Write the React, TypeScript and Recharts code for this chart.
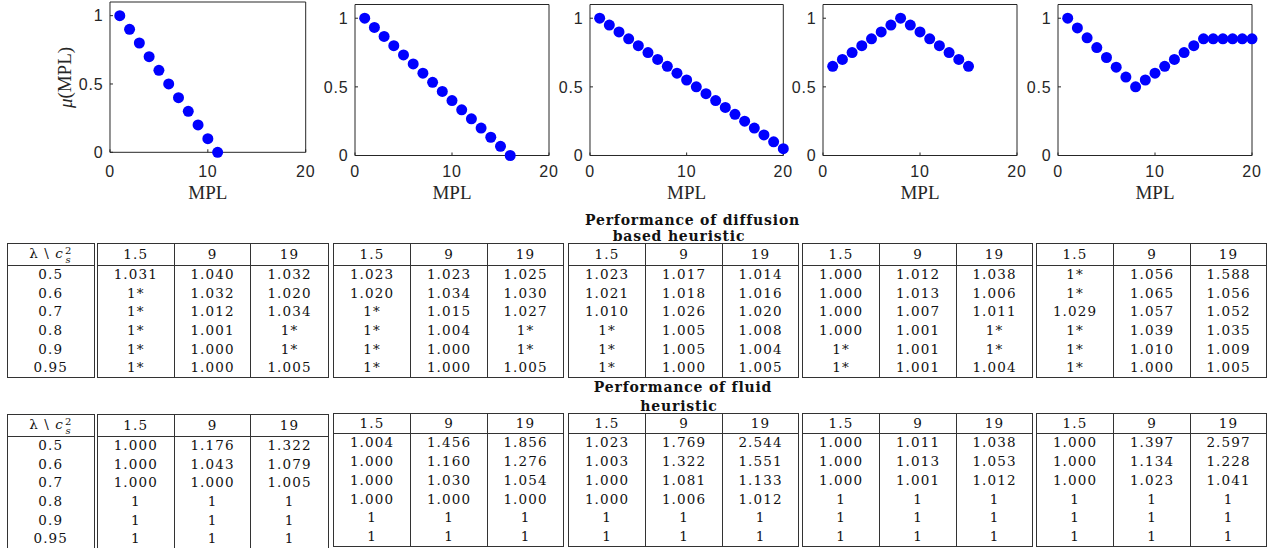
import React from 'react';
import { ScatterChart, Scatter, XAxis, YAxis } from 'recharts';

// membership functions mu(MPL), one per panel
const mplA = [1, 2, 3, 4, 5, 6, 7, 8, 9, 10, 11];
const muA = [1, 0.9, 0.8, 0.7, 0.6, 0.5, 0.4, 0.3, 0.2, 0.1, 0];
const mplB = [1, 2, 3, 4, 5, 6, 7, 8, 9, 10, 11, 12, 13, 14, 15, 16];
const muB = [1, 0.933, 0.867, 0.8, 0.733, 0.667, 0.6, 0.533, 0.467, 0.4, 0.333, 0.267, 0.2, 0.133, 0.067, 0];
const mplC = [1, 2, 3, 4, 5, 6, 7, 8, 9, 10, 11, 12, 13, 14, 15, 16, 17, 18, 19, 20];
const muC = [1, 0.95, 0.9, 0.85, 0.8, 0.75, 0.7, 0.65, 0.6, 0.55, 0.5, 0.45, 0.4, 0.35, 0.3, 0.25, 0.2, 0.15, 0.1, 0.05];
const mplD = [1, 2, 3, 4, 5, 6, 7, 8, 9, 10, 11, 12, 13, 14, 15];
const muD = [0.65, 0.7, 0.75, 0.8, 0.85, 0.9, 0.95, 1, 0.95, 0.9, 0.85, 0.8, 0.75, 0.7, 0.65];
const mplE = [1, 2, 3, 4, 5, 6, 7, 8, 9, 10, 11, 12, 13, 14, 15, 16, 17, 18, 19, 20];
const muE = [1, 0.929, 0.857, 0.786, 0.714, 0.643, 0.571, 0.5, 0.55, 0.6, 0.65, 0.7, 0.75, 0.8, 0.85, 0.85, 0.85, 0.85, 0.85, 0.85];

const xTicks = [0, 10, 20];
const yTicks = [0, 0.5, 1];

// table data
const lambdas = ['0.5', '0.6', '0.7', '0.8', '0.9', '0.95'];
const cs2 = ['1.5', '9', '19'];

const diffusion1 = [
  ['1.031', '1.040', '1.032'], ['1*', '1.032', '1.020'], ['1*', '1.012', '1.034'],
  ['1*', '1.001', '1*'], ['1*', '1.000', '1*'], ['1*', '1.000', '1.005'],
];
const diffusion2 = [
  ['1.023', '1.023', '1.025'], ['1.020', '1.034', '1.030'], ['1*', '1.015', '1.027'],
  ['1*', '1.004', '1*'], ['1*', '1.000', '1*'], ['1*', '1.000', '1.005'],
];
const diffusion3 = [
  ['1.023', '1.017', '1.014'], ['1.021', '1.018', '1.016'], ['1.010', '1.026', '1.020'],
  ['1*', '1.005', '1.008'], ['1*', '1.005', '1.004'], ['1*', '1.000', '1.005'],
];
const diffusion4 = [
  ['1.000', '1.012', '1.038'], ['1.000', '1.013', '1.006'], ['1.000', '1.007', '1.011'],
  ['1.000', '1.001', '1*'], ['1*', '1.001', '1*'], ['1*', '1.001', '1.004'],
];
const diffusion5 = [
  ['1*', '1.056', '1.588'], ['1*', '1.065', '1.056'], ['1.029', '1.057', '1.052'],
  ['1*', '1.039', '1.035'], ['1*', '1.010', '1.009'], ['1*', '1.000', '1.005'],
];

const fluid1 = [
  ['1.000', '1.176', '1.322'], ['1.000', '1.043', '1.079'], ['1.000', '1.000', '1.005'],
  ['1', '1', '1'], ['1', '1', '1'], ['1', '1', '1'],
];
const fluid2 = [
  ['1.004', '1.456', '1.856'], ['1.000', '1.160', '1.276'], ['1.000', '1.030', '1.054'],
  ['1.000', '1.000', '1.000'], ['1', '1', '1'], ['1', '1', '1'],
];
const fluid3 = [
  ['1.023', '1.769', '2.544'], ['1.003', '1.322', '1.551'], ['1.000', '1.081', '1.133'],
  ['1.000', '1.006', '1.012'], ['1', '1', '1'], ['1', '1', '1'],
];
const fluid4 = [
  ['1.000', '1.011', '1.038'], ['1.000', '1.013', '1.053'], ['1.000', '1.001', '1.012'],
  ['1', '1', '1'], ['1', '1', '1'], ['1', '1', '1'],
];
const fluid5 = [
  ['1.000', '1.397', '2.597'], ['1.000', '1.134', '1.228'], ['1.000', '1.023', '1.041'],
  ['1', '1', '1'], ['1', '1', '1'], ['1', '1', '1'],
];

const AXIS = '#262626';
const SANS = "'Liberation Sans', Arial, sans-serif";
const SERIF = "'Liberation Serif', 'Times New Roman', serif";
const TSERIF = "'DejaVu Serif', serif";
const LINE = '#333';

const dot = (p: any) => <circle cx={p.cx} cy={p.cy} r={5.5} fill="#0000ff" />;

type PlotProps = {
  xs: number[];
  ys: number[];
  left: number;
  top: number;
  plotW: number;
  plotH: number;
  yLabel?: boolean;
};

const MuPlot = ({ xs, ys, left, top, plotW, plotH, yLabel }: PlotProps) => {
  const data = xs.map((x, i) => ({ mpl: x, mu: ys[i] }));
  const axisW = 60;
  const w = axisW + plotW + 14;
  const h = 210;
  const bottom = top + plotH;
  const xMargin = 177.2 - 11.4 - (bottom - 3);
  const tickStyle = { fill: AXIS, fontSize: 16, fontFamily: SANS, letterSpacing: 0.8 };
  const originX = left - axisW;
  return (
    <div style={{ position: 'absolute', left: originX, top: 0 }}>
      <ScatterChart width={w} height={h} margin={{ top: top - 1, right: 13, bottom: h - bottom - 50, left: 0 }}>
        <XAxis
          xAxisId="b"
          type="number"
          dataKey="mpl"
          domain={[0, 20]}
          ticks={xTicks}
          height={50}
          tickSize={-3}
          tickMargin={xMargin}
          axisLine={{ stroke: AXIS }}
          tickLine={{ stroke: AXIS }}
          tick={tickStyle}
          label={{
            content: (lp: any) => (
              <text
                x={lp.viewBox.x + lp.viewBox.width / 2}
                y={199}
                textAnchor="middle"
                fill={AXIS}
                fontSize={19}
                fontFamily={SERIF}
              >
                MPL
              </text>
            ),
          }}
        />
        <XAxis
          xAxisId="t"
          orientation="top"
          type="number"
          domain={[0, 20]}
          ticks={xTicks}
          height={1}
          tick={false}
          tickSize={-3}
          axisLine={{ stroke: AXIS }}
          tickLine={{ stroke: AXIS }}
        />
        <YAxis
          yAxisId="l"
          type="number"
          dataKey="mu"
          domain={[0, 1.1]}
          ticks={yTicks}
          width={axisW}
          tickSize={-3}
          tickMargin={9.5}
          axisLine={{ stroke: AXIS }}
          tickLine={{ stroke: AXIS }}
          tick={tickStyle}
          label={
            yLabel
              ? {
                  content: () => (
                    <text
                      x={65 - originX}
                      y={77.5}
                      transform={`rotate(-90, ${65 - originX}, 77.5)`}
                      textAnchor="middle"
                      dominantBaseline="central"
                      fill={AXIS}
                      fontSize={19}
                      fontFamily={SERIF}
                    >
                      <tspan fontStyle="italic">μ</tspan>(MPL)
                    </text>
                  ),
                }
              : undefined
          }
        />
        <YAxis
          yAxisId="r"
          orientation="right"
          type="number"
          domain={[0, 1.1]}
          ticks={yTicks}
          width={1}
          tick={false}
          tickSize={-3}
          axisLine={{ stroke: AXIS }}
          tickLine={{ stroke: AXIS }}
        />
        <Scatter xAxisId="b" yAxisId="l" data={data} shape={dot} isAnimationActive={false} />
      </ScatterChart>
    </div>
  );
};

type BlockProps = {
  left: number;
  top: number;
  width: number;
  headH: number;
  rowH: number;
  rows: string[][];
  withLabel?: boolean;
};

const cellText: React.CSSProperties = {
  fontFamily: TSERIF,
  fontSize: 13.5,
  letterSpacing: 1.1,
  color: '#111',
  textAlign: 'center',
  verticalAlign: 'middle',
  padding: 0,
  lineHeight: 1,
};

const HeaderLabel = () => (
  <span>
    λ \ <i>c</i>
    <span style={{ display: 'inline-flex', flexDirection: 'column', verticalAlign: 'middle', fontSize: 10, lineHeight: '9px', marginLeft: 1 }}>
      <span>2</span>
      <i>s</i>
    </span>
  </span>
);

const TableBlock = ({ left, top, width, headH, rowH, rows, withLabel }: BlockProps) => {
  const cols = withLabel ? [88, 79, 76, 78] : [77, 77, 76];
  const vline = `1px solid ${LINE}`;
  return (
    <table
      style={{
        position: 'absolute',
        left,
        top,
        width,
        borderCollapse: 'collapse',
        tableLayout: 'fixed',
        border: vline,
      }}
    >
      <colgroup>
        {cols.map((c, i) => (
          <col key={i} style={{ width: c }} />
        ))}
      </colgroup>
      <thead>
        <tr style={{ height: headH }}>
          {withLabel && (
            <th style={{ ...cellText, fontWeight: 'normal', borderRight: `4px double ${LINE}`, borderBottom: `1.5px solid ${LINE}` }}>
              <HeaderLabel />
            </th>
          )}
          {cs2.map((c, i) => (
            <th key={c} style={{ ...cellText, fontWeight: 'normal', borderRight: i < 2 ? vline : undefined, borderBottom: `1.5px solid ${LINE}` }}>
              {c}
            </th>
          ))}
        </tr>
      </thead>
      <tbody>
        {rows.map((r, ri) => (
          <tr key={ri} style={{ height: rowH }}>
            {withLabel && <td style={{ ...cellText, borderRight: `4px double ${LINE}` }}>{lambdas[ri]}</td>}
            {r.map((v, ci) => (
              <td key={ci} style={{ ...cellText, borderRight: ci < 2 ? vline : undefined }}>
                {v}
              </td>
            ))}
          </tr>
        ))}
      </tbody>
    </table>
  );
};

const blockLefts = [333, 568, 802, 1036];
const diffusionBlocks = [diffusion2, diffusion3, diffusion4, diffusion5];
const fluidBlocks = [fluid2, fluid3, fluid4, fluid5];

const App = () => {
  return (
    <div style={{ position: 'absolute', left: 0, top: 0, width: 1271, height: 548, overflow: 'hidden', background: '#fff' }}>
      <MuPlot xs={mplA} ys={muA} left={110} top={2} plotW={195.7} plotH={150.3} yLabel />
      <MuPlot xs={mplB} ys={muB} left={355.3} top={4.5} plotW={194} plotH={151} />
      <MuPlot xs={mplC} ys={muC} left={590} top={4.5} plotW={193.3} plotH={151} />
      <MuPlot xs={mplD} ys={muD} left={823.3} top={4.5} plotW={194} plotH={151} />
      <MuPlot xs={mplE} ys={muE} left={1057.7} top={4.5} plotW={194} plotH={151} />

      <svg width={1271} height={548} style={{ position: 'absolute', left: 0, top: 0 }}>
        <g fontFamily={TSERIF} fontWeight="bold" fontSize={14} fill="#111" textAnchor="middle" style={{ letterSpacing: 0.8 }}>
          <text x={692.5} y={224.5}>Performance of diffusion</text>
          <text x={679} y={241}>based heuristic</text>
          <text x={683} y={391.7}>Performance of fluid</text>
          <text x={679} y={410.7}>heuristic</text>
        </g>
      </svg>

      <TableBlock left={7} top={243} width={321} headH={22} rowH={18.7} rows={diffusion1} withLabel />
      {diffusionBlocks.map((rows, i) => (
        <TableBlock key={i} left={blockLefts[i]} top={243} width={230} headH={22} rowH={18.7} rows={rows} />
      ))}

      <TableBlock left={7} top={414} width={321} headH={22} rowH={18.7} rows={fluid1} withLabel />
      {fluidBlocks.map((rows, i) => (
        <TableBlock key={i} left={blockLefts[i]} top={413} width={230} headH={20} rowH={18.8} rows={rows} />
      ))}
    </div>
  );
};

export default App;
